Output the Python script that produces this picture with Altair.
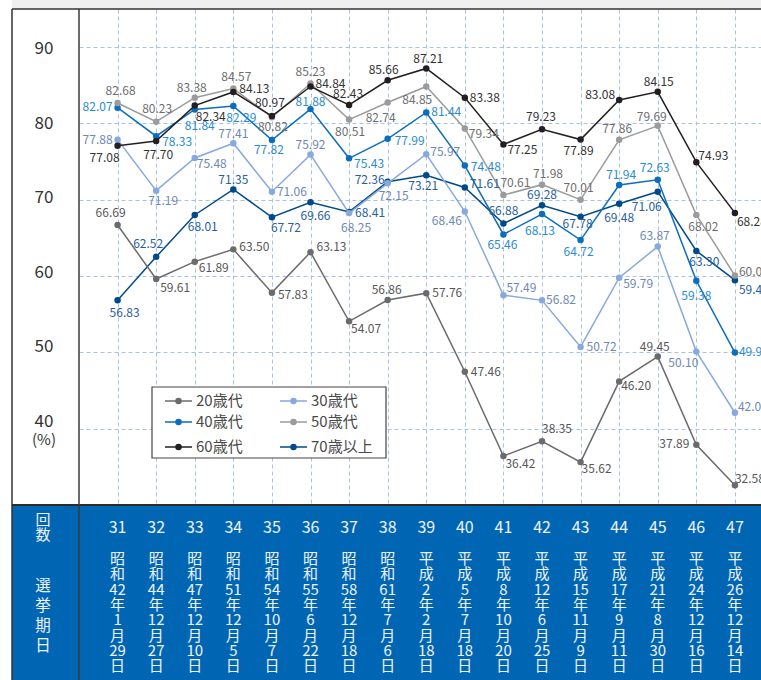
import altair as alt
import pandas as pd

# ---------------- data ----------------
ELECTIONS = list(range(31, 48))
ERAS = ["昭和"] * 8 + ["平成"] * 9
ERA_YEARS = [42, 44, 47, 51, 54, 55, 58, 61, 2, 5, 8, 12, 15, 17, 21, 24, 26]
MONTHS = [1, 12, 12, 12, 10, 6, 12, 7, 2, 7, 10, 6, 11, 9, 8, 12, 12]
DAYS = [29, 27, 10, 5, 7, 22, 18, 6, 18, 18, 20, 25, 9, 11, 30, 16, 14]

SERIES = ["20歳代", "30歳代", "40歳代", "50歳代", "60歳代", "70歳以上"]
V20 = [66.69, 59.61, 61.89, 63.50, 57.83, 63.13, 54.07, 56.86, 57.76, 47.46,
       36.42, 38.35, 35.62, 46.20, 49.45, 37.89, 32.58]
V30 = [77.88, 71.19, 75.48, 77.41, 71.06, 75.92, 68.25, 72.15, 75.97, 68.46,
       57.49, 56.82, 50.72, 59.79, 63.87, 50.10, 42.09]
V40 = [82.07, 78.33, 81.84, 82.29, 77.82, 81.88, 75.43, 77.99, 81.44, 74.48,
       65.46, 68.13, 64.72, 71.94, 72.63, 59.38, 49.98]
V50 = [82.68, 80.23, 83.38, 84.57, 80.82, 85.23, 80.51, 82.74, 84.85, 79.34,
       70.61, 71.98, 70.01, 77.86, 79.69, 68.02, 60.07]
V60 = [77.08, 77.70, 82.34, 84.13, 80.97, 84.84, 82.43, 85.66, 87.21, 83.38,
       77.25, 79.23, 77.89, 83.08, 84.15, 74.93, 68.28]
V70 = [56.83, 62.52, 68.01, 71.35, 67.72, 69.66, 68.41, 72.36, 73.21, 71.61,
       66.88, 69.28, 67.78, 69.48, 71.06, 63.30, 59.46]
VALUES = {"20歳代": V20, "30歳代": V30, "40歳代": V40,
          "50歳代": V50, "60歳代": V60, "70歳以上": V70}
Y_TICKS = [40, 50, 60, 70, 80, 90]

# ---------------- styles ----------------
FONT = "Noto Sans CJK JP"
LINE_COLORS = {"20歳代": "#6b6b6b", "30歳代": "#88a9dd", "40歳代": "#0a6dbd",
               "50歳代": "#9b9b9b", "60歳代": "#231f20", "70歳以上": "#004a8c"}
LABEL_COLORS = {"20歳代": "#575757", "30歳代": "#6f88b2", "40歳代": "#2a8bd3",
                "50歳代": "#6e6e6e", "60歳代": "#333333", "70歳以上": "#27609b"}
GRID = "#a9c0e8"
BAND = "#0066b3"
BAND_TEXT = "#eef3fa"
DRAW_ORDER = ["70歳以上", "20歳代", "30歳代", "40歳代", "50歳代", "60歳代"]

# label placement per point: (align, dx px, dy px)
LABEL_OFFSETS = {
    "20歳代": [("c", -7, -12), ("l", 4, 9), ("l", 4, 6), ("l", 6, -2), ("l", 6, 2),
              ("l", 6, -5), ("l", 2, 8), ("c", -1, -10), ("l", 6, 0), ("l", 6, 0),
              ("l", 2, 8), ("l", 0, -12), ("l", 1, 7), ("l", 2, 5), ("c", -3, -10),
              ("r", -7, -1), ("l", 0, -6)],
    "30歳代": [("r", -5, 0), ("c", 7, 10), ("l", 2, 6), ("c", 0, -9), ("l", 5, 0),
              ("c", 0, -10), ("c", 7, 15), ("c", 6, 13), ("l", 4, -2), ("r", -3, 9),
              ("l", 3, -7), ("l", 4, 0), ("l", 6, 0), ("l", 4, 6), ("c", -3, -11),
              ("r", 2, 11), ("l", 3, -6)],
    "40歳代": [("r", -5, -1), ("l", 6, 6), ("c", 5, 17), ("c", 8, 12), ("c", -3, 10),
              ("c", 0, -7), ("l", 5, 6), ("l", 7, 2), ("l", 5, 0), ("l", 6, 1),
              ("c", -1, 11), ("c", -2, 17), ("c", -2, 12), ("c", 2, -10), ("c", -3, -12),
              ("c", 0, 15), ("l", 4, -1)],
    "50歳代": [("c", 3, -12), ("c", 1, -13), ("c", -3, -10), ("c", 3, -12), ("c", 1, 10),
              ("c", 0, -12), ("c", 1, 12), ("c", -7, 15), ("c", -9, 14), ("l", 4, 6),
              ("c", 12, -12), ("c", 6, -11), ("c", -2, -12), ("c", -2, -11), ("c", -6, -9),
              ("c", 7, 12), ("l", 4, -4)],
    "60歳代": [("c", -13, 12), ("c", 2, 14), ("l", 1, 11), ("l", 6, -3), ("c", -2, -13),
              ("l", 5, -3), ("c", -1, -11), ("c", -4, -10), ("c", 2, -9), ("l", 5, 0),
              ("l", 4, 6), ("c", -1, -12), ("c", -2, 11), ("r", -4, -5), ("c", 1, -10),
              ("l", 2, -6), ("l", 2, 9)],
    "70歳以上": [("c", 7, 13), ("c", -8, -13), ("c", 8, 12), ("c", 0, -9), ("c", 14, 11),
              ("c", 5, 14), ("l", 6, 1), ("r", -3, -2), ("c", -3, 11), ("l", 5, -3),
              ("c", 0, -13), ("c", 0, -10), ("c", -3, 7), ("c", 0, 14), ("c", -11, 15),
              ("c", 8, 11), ("l", 4, 10)],
}

# ---------------- layout ----------------
W, H = 682, 496
X_DOMAIN = [30, 47.676]
Y_DOMAIN = [30, 95]
PX_X = W / (X_DOMAIN[1] - X_DOMAIN[0])
PX_Y = H / (Y_DOMAIN[1] - Y_DOMAIN[0])
X_SCALE = alt.Scale(domain=X_DOMAIN, nice=False, zero=False)
Y_SCALE = alt.Scale(domain=Y_DOMAIN, nice=False, zero=False)
AX_X = alt.Axis(values=ELECTIONS, grid=True, gridDash=[4, 3], gridColor=GRID, gridWidth=1,
                labels=False, ticks=False, domain=False, title=None)
AX_Y = alt.Axis(values=Y_TICKS, grid=True, gridDash=[4, 3], gridColor=GRID, gridWidth=1,
                labels=False, ticks=False, domain=False, title=None)


def X(f):
    return alt.X(f"{f}:Q", scale=X_SCALE, axis=AX_X)


def Y(f):
    return alt.Y(f"{f}:Q", scale=Y_SCALE, axis=AX_Y)


one = pd.DataFrame({"a": [0]})
layers = []

# decorations
layers.append(alt.Chart(one).mark_rect(color="#f0f0f0").encode(
    x=alt.value(-67), x2=alt.value(W), y=alt.value(-9), y2=alt.value(0)))
layers.append(alt.Chart(one).mark_rect(color=BAND).encode(
    x=alt.value(-67), x2=alt.value(W), y=alt.value(H), y2=alt.value(H + 175)))

# grid carrier
grid_df = pd.DataFrame({"n": ELECTIONS, "v": [40] * len(ELECTIONS)})
layers.append(alt.Chart(grid_df).mark_point(opacity=0).encode(x=X("n"), y=Y("v")))

# legend box
layers.append(alt.Chart(one).mark_rect(fill="white", stroke="#444444", strokeWidth=1.2).encode(
    x=alt.value(73), x2=alt.value(307), y=alt.value(378), y2=alt.value(449)))

# series lines and points
for s in DRAW_ORDER:
    df = pd.DataFrame({"n": ELECTIONS, "v": VALUES[s]})
    layers.append(alt.Chart(df).mark_line(color=LINE_COLORS[s], strokeWidth=1.5).encode(
        x=X("n"), y=Y("v")))
    layers.append(alt.Chart(df).mark_circle(color=LINE_COLORS[s], size=42, opacity=1).encode(
        x=X("n"), y=Y("v")))

# data labels
rows = []
for s in SERIES:
    for n, v, (al, dx, dy) in zip(ELECTIONS, VALUES[s], LABEL_OFFSETS[s]):
        rows.append({"n": n, "v": v, "s": s, "al": al, "dx": dx, "dy": dy,
                     "lcolor": LABEL_COLORS[s]})
lab = pd.DataFrame(rows)
for code, align in [("l", "left"), ("c", "center"), ("r", "right")]:
    layers.append(
        alt.Chart(lab)
        .transform_filter(alt.datum.al == code)
        .transform_calculate(lx=f"datum.n + datum.dx / {PX_X}", ly=f"datum.v - datum.dy / {PX_Y}")
        .mark_text(align=align, baseline="middle", fontSize=12, font=FONT)
        .encode(x=X("lx"), y=Y("ly"), text=alt.Text("v:Q", format=".2f"),
                color=alt.Color("lcolor:N", scale=None))
    )

# y tick labels
yt = pd.DataFrame({"v": Y_TICKS})
layers.append(
    alt.Chart(yt)
    .transform_calculate(ly="datum.v + (90 - datum.v) * 0.0232 - 0.28")
    .mark_text(align="center", baseline="middle", fontSize=17, font=FONT, color="#333333")
    .encode(x=alt.value(-35), y=Y("ly"), text="v:Q")
)
layers.append(
    alt.Chart(pd.DataFrame({"v": [40]}))
    .transform_calculate(ly="datum.v + (90 - datum.v) * 0.0232 - 0.28")
    .mark_text(align="center", baseline="middle", fontSize=15, font=FONT, color="#333333", dy=18)
    .encode(x=alt.value(-35), y=Y("ly"), text=alt.value("(%)"))
)

# legend items
leg_rows = [392, 413, 438]
leg = []
for i, s in enumerate(SERIES):
    col, row = i % 2, i // 2
    leg.append({"s": s, "x1": 86 + col * 115, "x2": 113 + col * 115,
                "xd": 99.5 + col * 115, "xt": 117 + col * 115, "y": leg_rows[row],
                "c": LINE_COLORS[s]})
leg = pd.DataFrame(leg)
layers.append(alt.Chart(leg).mark_rule(strokeWidth=1.5).encode(
    x=alt.X("x1:Q", scale=None), x2="x2:Q", y=alt.Y("y:Q", scale=None),
    color=alt.Color("c:N", scale=None)))
layers.append(alt.Chart(leg).mark_circle(size=42, opacity=1).encode(
    x=alt.X("xd:Q", scale=None), y=alt.Y("y:Q", scale=None),
    color=alt.Color("c:N", scale=None)))
layers.append(alt.Chart(leg).mark_text(align="left", baseline="middle", fontSize=15,
                                       font=FONT, color="#4a4a4a").encode(
    x=alt.X("xt:Q", scale=None), y=alt.Y("y:Q", scale=None), text="s:N"))

# bottom band texts
band = pd.DataFrame({
    "n": ELECTIONS,
    "num": [str(n) for n in ELECTIONS],
    "date": ["\n".join([e[0], e[1], str(y), "年", str(m), "月", str(d), "日"])
             for e, y, m, d in zip(ERAS, ERA_YEARS, MONTHS, DAYS)],
})
layers.append(alt.Chart(band).mark_text(baseline="middle", fontSize=16, font=FONT,
                                        color=BAND_TEXT).encode(
    x=X("n"), y=alt.value(H + 23), text="num:N"))
layers.append(alt.Chart(band).mark_text(baseline="top", fontSize=15, font=FONT,
                                        color=BAND_TEXT, lineBreak="\n", lineHeight=15.3).encode(
    x=X("n"), y=alt.value(H + 47), text="date:N"))
layers.append(alt.Chart(one).mark_text(baseline="top", fontSize=15, font=FONT, color=BAND_TEXT,
                                       lineBreak="\n", lineHeight=15).encode(
    x=alt.value(-36), y=alt.value(H + 8), text=alt.value("回\n数")))
layers.append(alt.Chart(one).mark_text(baseline="top", fontSize=15.5, font=FONT, color=BAND_TEXT,
                                       lineBreak="\n", lineHeight=20).encode(
    x=alt.value(-36), y=alt.value(H + 74), text=alt.value("選\n挙\n期\n日")))

# borders
layers.append(alt.Chart(one).mark_rule(color="#333333", strokeWidth=1.5).encode(
    x=alt.value(-67), x2=alt.value(W), y=alt.value(0)))
layers.append(alt.Chart(one).mark_rule(color="#2b2b2b", strokeWidth=2).encode(
    x=alt.value(-67), x2=alt.value(W), y=alt.value(H)))
layers.append(alt.Chart(one).mark_rule(color="#333333", strokeWidth=1.5).encode(
    x=alt.value(-67), y=alt.value(0), y2=alt.value(H + 175)))
layers.append(alt.Chart(one).mark_rule(color="#3a3a3a", strokeWidth=1.5).encode(
    x=alt.value(0), y=alt.value(0), y2=alt.value(H + 175)))

chart = (
    alt.layer(*layers)
    .properties(width=W, height=H, autosize=alt.AutoSizeParams(type="none"),
                padding={"left": 79, "top": 9, "right": 0, "bottom": 175},
                background="white")
    .configure_view(stroke=None)
)

chart.save("out.html", embed_options={"renderer": "svg", "actions": False})
